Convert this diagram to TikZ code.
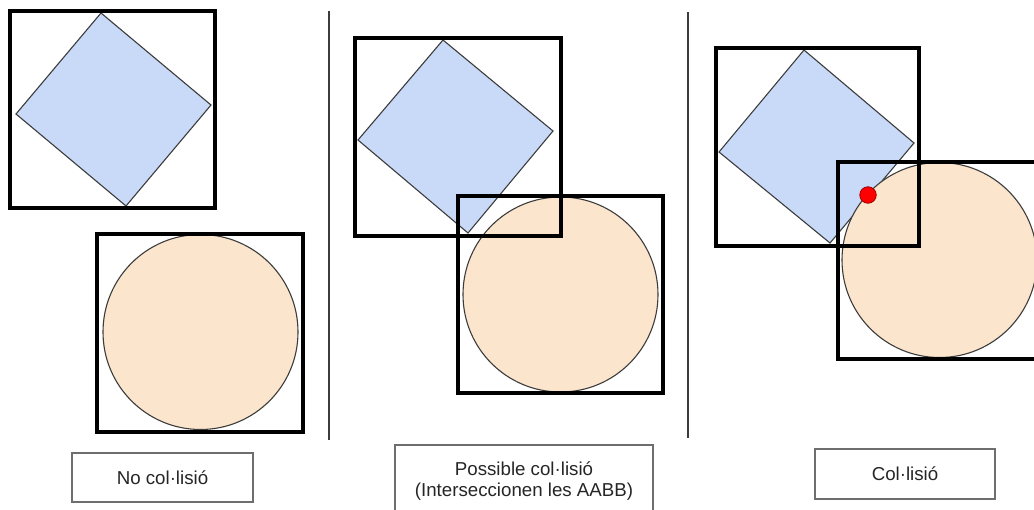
\documentclass[tikz,border=0pt]{standalone}
\usepackage{fontspec}
\setmainfont{Liberation Sans}
\definecolor{boxblue}{HTML}{C9DAF8}
\definecolor{circorange}{HTML}{FCE5CD}
\definecolor{outl}{HTML}{3C3C3C}
\definecolor{lblgray}{HTML}{6E6E6E}
\definecolor{dotred}{HTML}{FF0000}
\definecolor{dotline}{HTML}{990000}
\tikzset{
  diamondshape/.style={fill=boxblue, draw=outl, line width=1.1pt, line join=miter},
  circshape/.style={fill=circorange, draw=outl, line width=1.1pt},
  aabb/.style={draw=black, line width=3.2pt, line join=miter},
  divider/.style={draw=outl, line width=1.3pt},
  lbl/.style={draw=lblgray, line width=1.3pt, fill=white, align=center,
    font=\fontsize{18.7}{21.5}\selectfont, text=black!85, inner sep=0pt},
  hit/.style={circle, fill=dotred, draw=dotline, line width=0.8pt, minimum size=16.5pt, inner sep=0pt}
}
\begin{document}
\begin{tikzpicture}[x=1pt,y=-1pt]
\clip (0,0) rectangle (1034,509);
\fill[white] (0,0) rectangle (1034,509);

% dividers
\coordinate (d1t) at (329,11);
\coordinate (d1b) at (329,440);
\coordinate (d2t) at (688,12);
\coordinate (d2b) at (688,438);
\draw[divider] (d1t) -- (d1b);
\draw[divider] (d2t) -- (d2b);

% ---------- Panel 1 ----------
\draw[diamondshape] (101,13) -- (211,105) -- (126,206) -- (16,114) -- cycle;
\draw[circshape] (200.5,332) circle[radius=97.5];
\draw[aabb] (10,11) rectangle (215,208);
\draw[aabb] (97,234) rectangle (303,432);

% ---------- Panel 2 ----------
\draw[diamondshape] (443,40) -- (553,131) -- (468,233) -- (358,140) -- cycle;
\draw[circshape] (560.5,294.5) circle[radius=97.5];
\draw[aabb] (355,38) rectangle (561,236);
\draw[aabb] (458,196) rectangle (663,393);

% ---------- Panel 3 ----------
\draw[diamondshape] (804,50) -- (914,143) -- (830,243) -- (719,152) -- cycle;
\draw[circshape] (939.5,260) circle[radius=97.5];
\draw[aabb] (716,48) rectangle (919,246);
\draw[aabb] (838,162) rectangle (1045,359);
\node[hit] (contact) at (868,195) {};

% ---------- Labels ----------
\node[lbl, minimum width=181pt, minimum height=49pt] (lab1) at (162.5,477.5) {No col·lisió};
\node[lbl, minimum width=258pt, minimum height=72pt] (lab2) at (524,481) {Possible col·lisió\\(Interseccionen les AABB)};
\node[lbl, minimum width=180pt, minimum height=50pt] (lab3) at (905,474) {Col·lisió};
\end{tikzpicture}
\end{document}
